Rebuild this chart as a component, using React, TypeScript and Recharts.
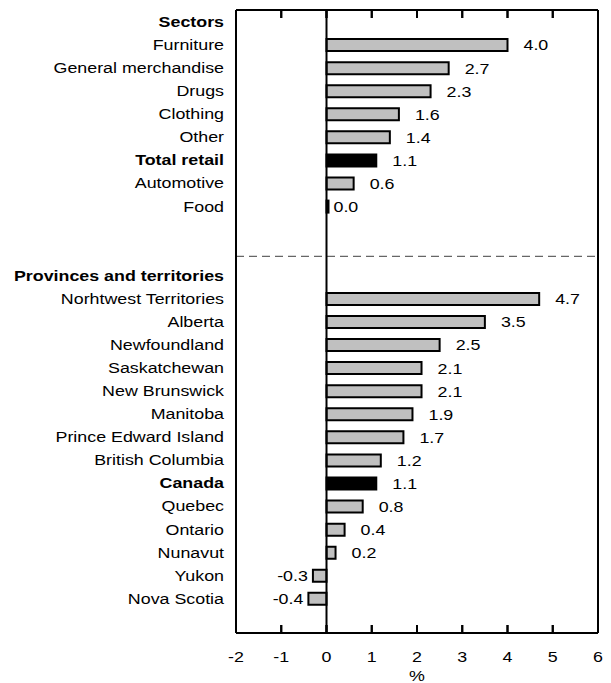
import React from "react";
import {
  ComposedChart,
  Bar,
  Line,
  XAxis,
  YAxis,
  Cell,
  LabelList,
  ReferenceLine,
  Label,
} from "recharts";

// Row labels, top to bottom ("" = spacer row)
const categories = [
  "Sectors",
  "Furniture",
  "General merchandise",
  "Drugs",
  "Clothing",
  "Other",
  "Total retail",
  "Automotive",
  "Food",
  "",
  "",
  "Provinces and territories",
  "Norhtwest Territories",
  "Alberta",
  "Newfoundland",
  "Saskatchewan",
  "New Brunswick",
  "Manitoba",
  "Prince Edward Island",
  "British Columbia",
  "Canada",
  "Quebec",
  "Ontario",
  "Nunavut",
  "Yukon",
  "Nova Scotia",
  "",
];

// % change, null where the row has no bar
const values: (number | null)[] = [
  null, 4.0, 2.7, 2.3, 1.6, 1.4, 1.1, 0.6, 0.0, null, null,
  null, 4.7, 3.5, 2.5, 2.1, 2.1, 1.9, 1.7, 1.2, 1.1, 0.8, 0.4, 0.2, -0.3, -0.4,
  null,
];

const headings = ["Sectors", "Provinces and territories"];
const totals = ["Total retail", "Canada"];
const xTicks = [-2, -1, 0, 1, 2, 3, 4, 5, 6];
const innerTicks = [-1, 0, 1, 2, 3, 4, 5];

const FONT = '"Liberation Sans", Arial, sans-serif';
const SX = 1.19; // text in the source is stretched horizontally
const BAR_FILL = "#c0c0c0";
const SHIFT = 40; // chart is drawn taller and pulled up so the top axis has room

const data = categories.map((name, i) => ({
  key: String(i),
  name,
  value: values[i],
}));

function CategoryTick(props: any) {
  const { x, y, payload } = props;
  const name = categories[Number(payload.value)] ?? "";
  const bold = headings.includes(name) || totals.includes(name);
  return (
    <text
      transform={`translate(${x},${y}) scale(${SX},1)`}
      textAnchor="end"
      dy="0.36em"
      fontSize={15}
      fontFamily={FONT}
      fontWeight={bold ? 700 : 400}
      fill="#000"
    >
      {name}
    </text>
  );
}

function BottomTick(props: any) {
  const { x, y, payload } = props;
  const edge = payload.value === -2 || payload.value === 6;
  return (
    <g>
      {!edge && <line x1={x} x2={x} y1={y} y2={y - 8} stroke="#000" strokeWidth={2} />}
      <text
        transform={`translate(${x},${y + 29}) scale(${SX},1)`}
        textAnchor="middle"
        fontSize={15}
        fontFamily={FONT}
        fill="#000"
      >
        {payload.value}
      </text>
    </g>
  );
}

function TopTick(props: any) {
  const { x, y } = props;
  return <line x1={x} x2={x} y1={y} y2={y + 8} stroke="#000" strokeWidth={2} />;
}

// inward tick marks at the top and bottom of the plot box
function InwardTicks(props: any) {
  const { x1, y1, y2 } = props;
  const top = Math.min(y1, y2);
  const bottom = Math.max(y1, y2);
  return (
    <g>
      <line x1={x1} x2={x1} y1={top} y2={top + 8} stroke="#000" strokeWidth={2} />
      <line x1={x1} x2={x1} y1={bottom} y2={bottom - 8} stroke="#000" strokeWidth={2} />
    </g>
  );
}

function PctLabel(props: any) {
  const vb = props.viewBox || {};
  const cx = vb.x + vb.width / 2;
  return (
    <text
      transform={`translate(${cx},${vb.y + vb.height - 2}) scale(${SX},1)`}
      textAnchor="middle"
      fontSize={15}
      fontFamily={FONT}
      fill="#000"
    >
      %
    </text>
  );
}

function ValueLabel(props: any) {
  const { x, y, width, height, value } = props;
  if (value === null || value === undefined) return null;
  const v = Number(value);
  const left = Math.min(x, x + width);
  const right = Math.max(x, x + width);
  let tx = right + 16;
  let anchor = "start";
  if (v < 0) {
    tx = left - 5;
    anchor = "end";
  } else if (v === 0) {
    tx = x + 7;
  }
  return (
    <text
      transform={`translate(${tx},${y + height / 2}) scale(${SX},1)`}
      textAnchor={anchor}
      dy="0.36em"
      fontSize={15}
      fontFamily={FONT}
      fill="#000"
    >
      {v.toFixed(1)}
    </text>
  );
}

// dashed separator, sits a little below the centre of the second spacer row
function Separator(props: any) {
  const { x1, x2, y1 } = props;
  return (
    <line
      x1={x1}
      x2={x2}
      y1={y1 + 4}
      y2={y1 + 4}
      stroke="#666"
      strokeWidth={1.3}
      strokeDasharray="8 5"
    />
  );
}

export default function App() {
  return (
    <div
      style={{
        position: "absolute",
        left: 0,
        top: 0,
        width: 611,
        height: 683,
        overflow: "hidden",
        background: "#fff",
      }}
    >
      <div style={{ position: "absolute", left: 0, top: -SHIFT }}>
        <ComposedChart
          width={611}
          height={683 + SHIFT}
          data={data}
          layout="vertical"
          margin={{ top: 30, right: 13, bottom: 0, left: 0 }}
          barSize={12}
        >
          <XAxis
            type="number"
            domain={[-2, 6]}
            ticks={xTicks}
            allowDataOverflow
            height={50}
            tickSize={0}
            tickMargin={0}
            axisLine={{ stroke: "#000", strokeWidth: 2 }}
            tickLine={false}
            tick={<BottomTick />}
            interval={0}
          >
            <Label content={<PctLabel />} />
          </XAxis>
          <XAxis
            xAxisId="top"
            orientation="top"
            type="number"
            domain={[-2, 6]}
            ticks={innerTicks}
            allowDataOverflow
            height={20}
            tickSize={0}
            tickMargin={0}
            axisLine={{ stroke: "#000", strokeWidth: 2 }}
            tickLine={false}
            tick={<TopTick />}
            interval={0}
          />
          <YAxis
            type="category"
            dataKey="key"
            width={236}
            tickSize={0}
            tickMargin={12}
            tickLine={false}
            axisLine={{ stroke: "#000", strokeWidth: 2 }}
            tick={<CategoryTick />}
            interval={0}
          />
          <ReferenceLine y="0" position="start" stroke="#000" strokeWidth={2} />
          <ReferenceLine y="10" shape={<Separator />} />
          {innerTicks.map((t) => (
            <ReferenceLine key={t} x={t} shape={<InwardTicks />} />
          ))}
          <Bar
            dataKey="value"
            isAnimationActive={false}
            stroke="#000"
            strokeWidth={2}
            minPointSize={2}
          >
            {data.map((d) => (
              <Cell key={d.key} fill={totals.includes(d.name) ? "#000" : BAR_FILL} />
            ))}
            <LabelList dataKey="value" content={<ValueLabel />} />
          </Bar>
          {/* invisible series so the top axis gets drawn */}
          <Line
            xAxisId="top"
            dataKey="value"
            stroke="none"
            dot={false}
            activeDot={false}
            isAnimationActive={false}
          />
          <ReferenceLine x={0} stroke="#000" strokeWidth={2} />
          <ReferenceLine x={6} stroke="#000" strokeWidth={2} />
        </ComposedChart>
      </div>
    </div>
  );
}
